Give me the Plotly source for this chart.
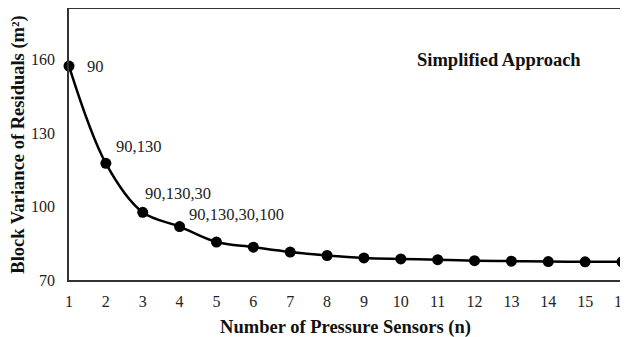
import plotly.graph_objects as go

sensors = list(range(1, 17))
variance = [157.3, 117.6, 97.6, 91.8, 85.5, 83.4, 81.4, 80.0, 79.0, 78.6, 78.3, 77.9, 77.7, 77.5, 77.4, 77.4]
point_labels = ["90", "90,130", "90,130,30", "90,130,30,100"]
y_ticks = [70, 100, 130, 160]

FONT = "Liberation Serif"

fig = go.Figure()
fig.add_trace(go.Scatter(
    x=sensors, y=variance, mode="lines+markers",
    line=dict(color="black", width=2.5, shape="spline", smoothing=1.0),
    marker=dict(color="black", size=11),
    cliponaxis=False, showlegend=False,
))

offsets = [(16, 0), (8, 17), (0, 19), (7, 12)]
for i, lab in enumerate(point_labels):
    dx, dy = offsets[i]
    fig.add_annotation(x=sensors[i], y=variance[i], text=lab, showarrow=False,
                       xanchor="left", yanchor="middle", xshift=dx, yshift=dy,
                       font=dict(family=FONT, size=16.5, color="#222"))

fig.add_annotation(x=0.777, y=0.81, xref="paper", yref="paper",
                   text="<b>Simplified Approach</b>", showarrow=False,
                   xanchor="center", yanchor="middle",
                   font=dict(family=FONT, size=18.5, color="#111"))

# the page body adds an 8px margin, so the figure is sized to fit the window
fig.update_layout(
    width=620, height=330,
    margin=dict(l=61, r=6, t=1, b=58),
    paper_bgcolor="white", plot_bgcolor="white",
    font=dict(family=FONT, size=16, color="#222"),
    xaxis=dict(range=[1, 16], tickmode="array", tickvals=sensors,
               showgrid=False, zeroline=False, showline=True, mirror=True,
               linecolor="#333", linewidth=1.5,
               ticks="outside", ticklen=6, tickcolor="rgba(0,0,0,0)",
               automargin=False, ticklabeloverflow="allow",
               title=dict(text="<b>Number of Pressure Sensors (n)</b>", standoff=13,
                          font=dict(family=FONT, size=18.5, color="#111")),
               tickfont=dict(family=FONT, size=16, color="#222")),
    yaxis=dict(range=[70, 180.6], tickmode="array", tickvals=y_ticks,
               showgrid=False, zeroline=False, showline=True, mirror=True,
               linecolor="#333", linewidth=1.5,
               ticks="outside", ticklen=9, tickcolor="rgba(0,0,0,0)",
               automargin=False,
               title=dict(text="<b>Block Variance of Residuals (m²)</b>", standoff=10,
                          font=dict(family=FONT, size=18.5, color="#111")),
               tickfont=dict(family=FONT, size=16, color="#222")),
)

fig.write_html("out.html")
